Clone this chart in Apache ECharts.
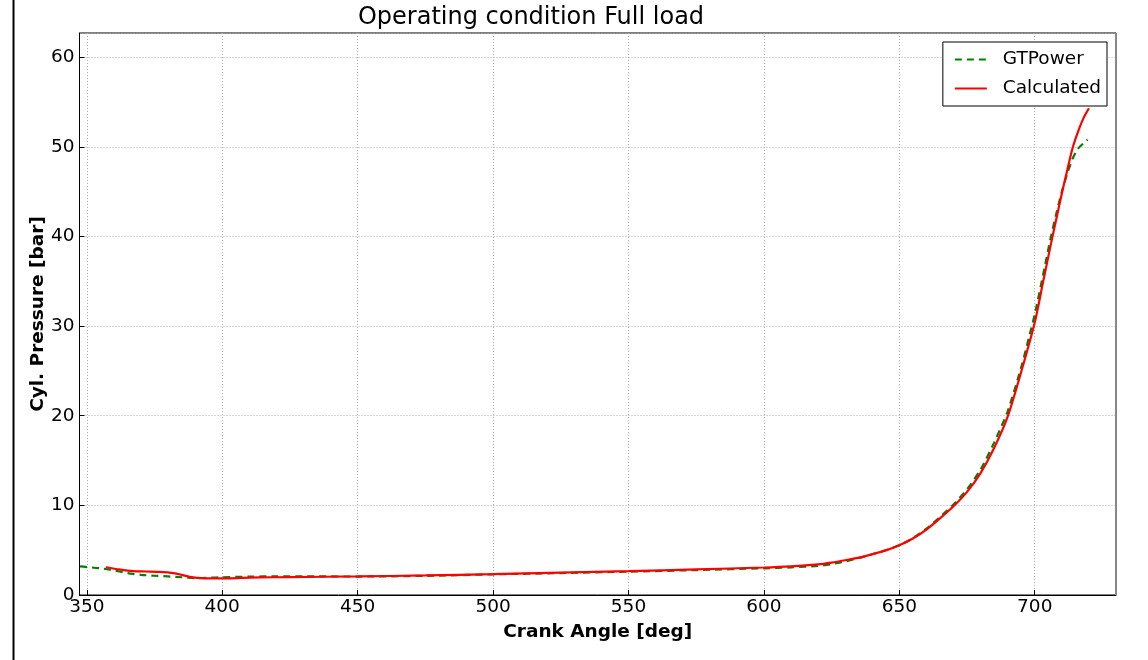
<!DOCTYPE html>
<html>
<head>
<meta charset="utf-8">
<script src="https://cdn.jsdelivr.net/npm/echarts@6/dist/echarts.min.js"></script>
<style>
html,body{margin:0;padding:0;background:#fff;}
#chart{width:1148px;height:660px;}
</style>
</head>
<body>
<div id="chart"></div>
<script>
const titleText = 'Operating condition Full load';
const xName = 'Crank Angle [deg]';
const yName = 'Cyl. Pressure [bar]';
const seriesNames = ['GTPower', 'Calculated'];

// GTPower (crank angle deg, pressure bar)
const gtAngle = [347.5, 350, 355, 360, 365, 370, 375, 380, 385, 390, 395, 400, 410, 420, 430, 450, 475, 500, 525, 550, 575, 600, 610, 620, 625, 630, 636, 640, 645, 650, 655, 660, 665, 670, 675, 680, 685, 690, 695, 698, 700, 703, 706, 708, 710, 712, 714, 716, 718, 719.5];
const gtPressure = [3.2, 3.12, 2.98, 2.75, 2.45, 2.25, 2.15, 2.07, 1.98, 1.88, 1.92, 1.98, 2.05, 2.08, 2.08, 2.06, 2.14, 2.3, 2.45, 2.6, 2.78, 2.98, 3.08, 3.25, 3.45, 3.75, 4.2, 4.55, 5.0, 5.55, 6.35, 7.4, 8.7, 10.1, 11.8, 14.0, 17.0, 20.5, 25.4, 28.9, 31.3, 35.6, 40.0, 42.6, 45.0, 47.0, 48.7, 49.8, 50.4, 50.8];

// Calculated (crank angle deg, pressure bar)
const calcAngle = [357, 362, 367, 372, 377, 382, 385, 388, 392, 396, 400, 407, 414, 425, 450, 475, 500, 525, 550, 575, 600, 610, 620, 625, 630, 636, 640, 645, 650, 655, 660, 665, 670, 675, 680, 685, 690, 695, 700, 703, 706, 708, 710, 712, 714, 716, 718, 720];
const calcPressure = [3.1, 2.85, 2.66, 2.62, 2.58, 2.44, 2.25, 2.02, 1.88, 1.85, 1.85, 1.9, 1.96, 2.0, 2.07, 2.18, 2.33, 2.5, 2.66, 2.85, 3.07, 3.2, 3.42, 3.62, 3.88, 4.22, 4.55, 4.98, 5.55, 6.3, 7.3, 8.55, 9.9, 11.5, 13.6, 16.4, 19.9, 24.9, 30.4, 34.8, 39.2, 42.0, 44.8, 47.4, 49.9, 51.7, 53.2, 54.3];

const xTickValues = [350, 400, 450, 500, 550, 600, 650, 700];
const yTickValues = [0, 10, 20, 30, 40, 50, 60];

function pairs(xs, ys) { return xs.map((x, i) => [x, ys[i]]); }

const chart = echarts.init(document.getElementById('chart'), null, {renderer: 'canvas'});
const FONT = 'DejaVu Sans';
const option = {
  backgroundColor: '#ffffff',
  animation: false,
  title: {
    text: titleText,
    left: 526, top: 1, textAlign: 'center',
    textStyle: {fontFamily: FONT, fontSize: 24, fontWeight: 'normal', color: '#000'}
  },
  legend: {
    orient: 'vertical',
    right: 41, top: 42,
    backgroundColor: '#fff',
    borderColor: '#000', borderWidth: 1, borderRadius: 0,
    padding: [8, 6, 8, 11],
    itemWidth: 32, itemHeight: 18, itemGap: 10,
    itemStyle: {opacity: 0},
    textStyle: {fontFamily: FONT, fontSize: 18.5, color: '#000', padding: [0, 0, 0, 11]},
    data: seriesNames
  },
  grid: {
    left: 79.5, right: 32, top: 33, bottom: 65,
    show: true, borderColor: '#000', borderWidth: 1, backgroundColor: 'transparent'
  },
  xAxis: {
    type: 'value', min: 347.3, max: 730,
    minInterval: 50, maxInterval: 50,
    name: xName, nameLocation: 'middle', nameGap: 28,
    nameTextStyle: {fontFamily: FONT, fontSize: 18.5, fontWeight: 'bold', color: '#000'},
    axisLine: {show: true, lineStyle: {color: '#000', width: 1}},
    axisTick: {show: true, inside: true, length: 5, lineStyle: {color: '#000'}},
    axisLabel: {showMinLabel: false, showMaxLabel: false, margin: 3, fontFamily: FONT, fontSize: 18.5, color: '#000',
      formatter: v => (xTickValues.indexOf(Math.round(v)) >= 0 && Math.abs(v - Math.round(v)) < 1e-6) ? String(Math.round(v)) : ''},
    splitLine: {show: true, lineStyle: {color: '#b0b0b0', type: [1, 2], width: 1}}
  },
  yAxis: {
    type: 'value', min: 0, max: 62.7,
    minInterval: 10, maxInterval: 10,
    name: yName, nameLocation: 'middle', nameGap: 32, nameMoveOverlap: false,
    nameTextStyle: {fontFamily: FONT, fontSize: 18.5, fontWeight: 'bold', color: '#000'},
    axisLine: {show: true, lineStyle: {color: '#000', width: 1}},
    axisTick: {show: true, inside: true, length: 5, lineStyle: {color: '#000'}},
    axisLabel: {showMinLabel: true, showMaxLabel: false, margin: 5, fontFamily: FONT, fontSize: 18.5, color: '#000',
      formatter: v => (yTickValues.indexOf(Math.round(v)) >= 0 && Math.abs(v - Math.round(v)) < 1e-6) ? String(Math.round(v)) : ''},
    splitLine: {show: true, lineStyle: {color: '#b0b0b0', type: [1, 2], width: 1}}
  },
  series: [
    {
      name: seriesNames[0], type: 'line', data: pairs(gtAngle, gtPressure),
      showSymbol: false, symbol: 'none', smooth: 0.25, z: 2,
      lineStyle: {color: '#008000', width: 2.2, type: [7, 5]},
      itemStyle: {color: '#008000'}
    },
    {
      name: seriesNames[1], type: 'line', data: pairs(calcAngle, calcPressure),
      showSymbol: false, symbol: 'none', smooth: 0.25, z: 3,
      lineStyle: {color: '#ff0000', width: 2.2},
      itemStyle: {color: '#ff0000'}
    }
  ],
  graphic: [
    {type: 'line', shape: {x1: 13.5, y1: 0, x2: 13.5, y2: 660}, style: {stroke: '#000', lineWidth: 2}, z: 100},
    {type: 'line', shape: {x1: 1116, y1: 33, x2: 1116, y2: 595}, style: {stroke: '#888', lineWidth: 2}, z: 100}
  ]
};
chart.setOption(option);
</script>
</body>
</html>
